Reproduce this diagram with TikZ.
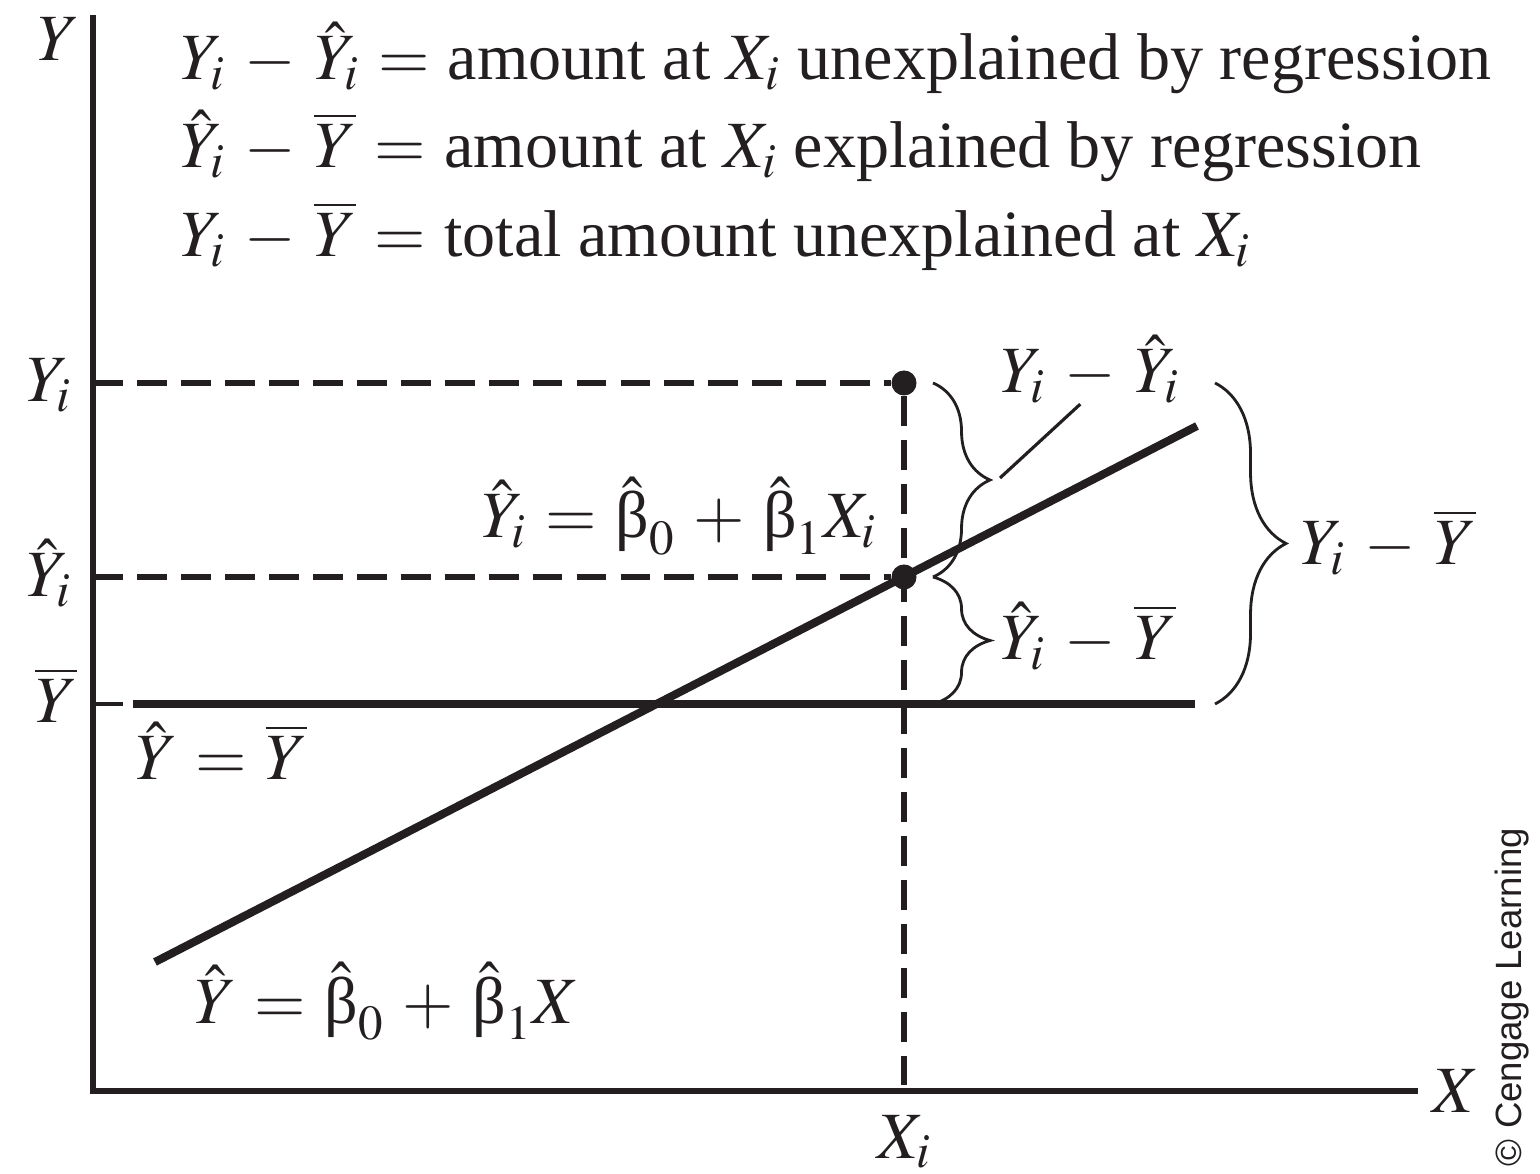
\documentclass[tikz,border=0pt]{standalone}
\usepackage{amsmath}
\usepackage{mathptmx}
\usepackage[no-math]{fontspec}
\setmainfont{Liberation Serif}
\setsansfont{Liberation Sans}
\usepackage{tikz}
\usetikzlibrary{decorations.pathreplacing, positioning}
\definecolor{ink}{RGB}{35, 31, 32}
\newcommand{\bhat}{\hat{\text{β}}}
\newcommand{\ybar}{\overline{Y}}
\medmuskip=5mu plus 2mu minus 2mu
\thickmuskip=5mu plus 3mu

\begin{document}
\begin{tikzpicture}[
		x=0.01cm, y=-0.01cm,
		font=\fontsize{18.8}{22}\selectfont,
		axis/.style={draw=ink, line width=1.7pt},
		fitline/.style={draw=ink, line width=2.3pt},
		guide/.style={draw=ink, line width=1.5pt, dash pattern=on 8.5pt off 4pt},
		brc/.style={draw=ink, line width=0.8pt, decorate, decoration={brace, amplitude=#1}},
		dot/.style={circle, fill=ink, inner sep=0pt, minimum size=0.25cm},
		lbl/.style={inner sep=0pt, text=ink},
		leader/.style={draw=ink, line width=0.9pt}
		]
		\useasboundingbox (0,0) rectangle (1540,1174);

		% axes
		\coordinate (O) at (93,1091);
		\coordinate (ytop) at (93,15);
		\coordinate (xend) at (1418,1091);
		\draw[axis] (ytop) -- (O) -- (xend);
		\node[lbl] (ylab) at (59,39) {$Y$};
		\node[lbl, anchor=base west] (xlab) at (1432,1112) {$X$};

		% levels on the Y axis
		\coordinate (yobs) at (93,383);
		\coordinate (yfit) at (93,577);
		\coordinate (ymean) at (93,704);
		\coordinate (ytick) at (123,704);
		\node[lbl, anchor=base east] (yobslab) at (73,402) {$Y_i$};
		\node[lbl, anchor=base east] (yfitlab) at (73,597) {$\hat{Y}_i$};
		\node[lbl, anchor=base east] (ymeanlab) at (78,723) {$\ybar$};

		% observed and fitted points at X_i
		\node[dot] (obs) at (904,383) {};
		\node[dot] (fit) at (904,577) {};
		\coordinate (xi) at (904,1091);
		\node[lbl, anchor=base] (xilab) at (905,1158) {$X_i$};
		\draw[guide] (yobs) -- (obs);
		\draw[guide] (yfit) -- (fit);
		\draw[guide] (obs) -- (xi);

		% mean line and regression line
		\coordinate (meanA) at (133,704);
		\coordinate (meanB) at (1195,704);
		\coordinate (regA) at (155,962);
		\coordinate (regB) at (1197,426);
		\draw[axis, line width=1.4pt] (ymean) -- (ytick);
		\draw[fitline] (meanA) -- (meanB);
		\draw[fitline] (regA) -- (regB);

		\node[lbl, anchor=base east] (fiteq) at (878,538) {$\hat{Y}_i = \bhat_0 + \bhat_1 X_i$};
		\node[lbl, anchor=base west] (meaneq) at (135,780) {$\hat{Y} = \ybar$};
		\node[lbl, anchor=base west] (regeq) at (194,1023) {$\hat{Y} = \bhat_0 + \bhat_1 X$};

		% braces
		\coordinate (b1top) at (933,383);
		\coordinate (b1mid) at (933,577);
		\coordinate (b1bot) at (933,704);
		\coordinate (b2top) at (1215,383);
		\coordinate (b2bot) at (1215,704);
		\coordinate (b1tip) at (1000,478);
		\draw[brc=0.57cm] (b1top) -- (b1mid);
		\draw[brc=0.57cm] (b1mid) -- (b1bot);
		\draw[brc=0.71cm] (b2top) -- (b2bot);

		\node[lbl, anchor=base west] (resid) at (1000,393) {$Y_i - \hat{Y}_i$};
		\node[lbl, anchor=base west] (expl) at (1000,660) {$\hat{Y}_i - \ybar$};
		\node[lbl, anchor=base west] (total) at (1300,565) {$Y_i - \ybar$};
		\draw[leader] (b1tip) -- ([xshift=-0.1cm]resid.south);

		% legend
		\node[lbl, anchor=base west] (leg1) at (180,80)
		{$Y_i - \hat{Y}_i = {}$amount at $X_i$ unexplained by regression};
		\node[lbl, anchor=base west] (leg2) at (180,168)
		{$\hat{Y}_i - \ybar = {}$amount at $X_i$ explained by regression};
		\node[lbl, anchor=base west] (leg3) at (180,257)
		{$Y_i - \ybar = {}$total amount unexplained at $X_i$};

		\node[lbl, rotate=90, font=\sffamily\fontsize{10.4}{12}\selectfont] (credit) at (1512,997)
		{© Cengage Learning};
	\end{tikzpicture}
\end{document}
